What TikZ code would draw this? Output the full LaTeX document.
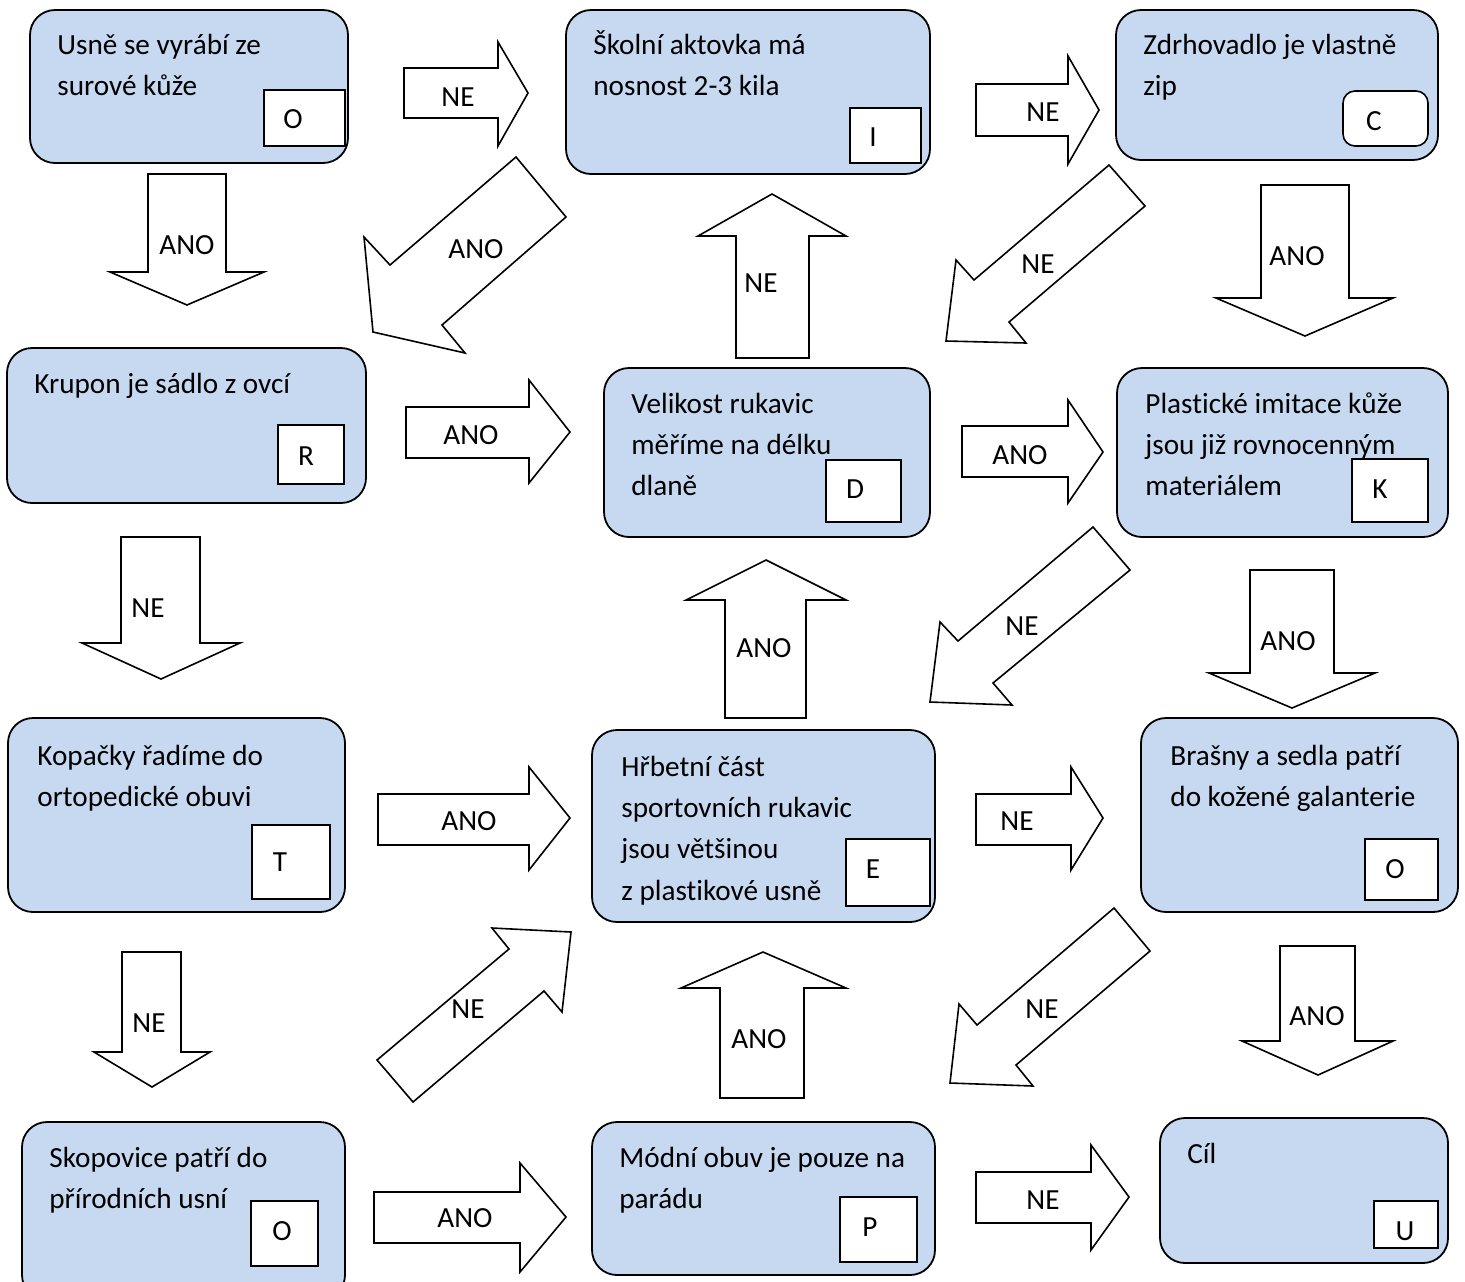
\documentclass[tikz,border=0pt]{standalone}
\usepackage{fontspec}
\setmainfont{Carlito}[Ligatures=NoCommon]
\begin{document}
\begin{tikzpicture}[x=0.5pt,y=-0.5pt,
  card/.style={draw=black,line width=0.9pt,fill=cardblue,rounded corners=12.5pt},
  tag/.style={draw=black,line width=0.8pt,fill=white},
  barrow/.style={draw=black,line width=0.8pt,fill=white,line join=miter},
  txt/.style={anchor=base west,inner sep=0pt,font=\fontsize{14.6}{20.7}\selectfont},
  lbl/.style={inner sep=0pt,font=\fontsize{14.6}{20.7}\selectfont},
  ltr/.style={inner sep=0pt,font=\fontsize{14.6}{20.7}\selectfont}]
\definecolor{cardblue}{HTML}{C6D9F1}
\useasboundingbox (0,0) rectangle (1465,1281);
\fill[white] (0,0) rectangle (1465,1281);
\newcommand{\lines}[1]{\begin{tabular}[t]{@{}l@{}}#1\end{tabular}}
% ---------- cards ----------
\draw[card] (30,10) rectangle (348,163);
\draw[card] (566,10) rectangle (930,174);
\draw[card] (1116,10) rectangle (1438,160);
\draw[card] (7,348) rectangle (366,503);
\draw[card] (604,368) rectangle (930,537);
\draw[card] (1117,368) rectangle (1448,537);
\draw[card] (8,718) rectangle (345,912);
\draw[card] (592,730) rectangle (935,922);
\draw[card] (1141,718) rectangle (1458,912);
\draw[card] (22,1122) rectangle (345,1300);
\draw[card] (592,1122) rectangle (935,1275);
\draw[card] (1160,1118) rectangle (1448,1263);
% ---------- texts ----------
\node[txt] (t1) at (57,54) {\lines{Usně se vyrábí ze\\surové kůže}};
\node[txt] (t2) at (593,54) {\lines{Školní aktovka má\\nosnost 2-3 kila}};
\node[txt] (t3) at (1143,54) {\lines{Zdrhovadlo je vlastně\\zip}};
\node[txt] (t4) at (34,393) {\lines{Krupon je sádlo z ovcí}};
\node[txt] (t5) at (631,413) {\lines{Velikost rukavic\\měříme na délku\\dlaně}};
\node[txt] (t6) at (1145,413) {\lines{Plastické imitace kůže\\jsou již rovnocenným\\materiálem}};
\node[txt] (t7) at (37,765) {\lines{Kopačky řadíme do\\ortopedické obuvi}};
\node[txt] (t8) at (621,776) {\lines{Hřbetní část\\sportovních rukavic\\jsou většinou\\z plastikové usně}};
\node[txt] (t9) at (1170,765) {\lines{Brašny a sedla patří\\do kožené galanterie}};
\node[txt] (t10) at (49,1167) {\lines{Skopovice patří do\\přírodních usní}};
\node[txt] (t11) at (619,1167) {\lines{Módní obuv je pouze na\\parádu}};
\node[txt] (t12) at (1187,1163) {Cíl};
% ---------- tags ----------
\draw[tag] (264,90) rectangle (345,146);
\draw[tag] (850,108) rectangle (921,163);
\draw[tag,rounded corners=6pt] (1343,91) rectangle (1428,146);
\draw[tag] (278,425) rectangle (344,484);
\draw[tag] (826,460) rectangle (901,522);
\draw[tag] (1352,459) rectangle (1428,522);
\draw[tag] (252,825) rectangle (330,899);
\draw[tag] (846,839) rectangle (930,906);
\draw[tag] (1365,839) rectangle (1438,900);
\draw[tag] (251,1201) rectangle (318,1266);
\draw[tag] (840,1197) rectangle (917,1262);
\draw[tag] (1374,1201) rectangle (1438,1248);
\node[ltr] (l1) at (293,119) {O};
\node[ltr] (l2) at (873,137) {I};
\node[ltr] (l3) at (1374,121) {C};
\node[ltr] (l4) at (306,456) {R};
\node[ltr] (l5) at (855,489) {D};
\node[ltr] (l6) at (1380,489) {K};
\node[ltr] (l7) at (280,862) {T};
\node[ltr] (l8) at (873,869) {E};
\node[ltr] (l9) at (1395,869) {O};
\node[ltr] (l10) at (282,1231) {O};
\node[ltr] (l11) at (870,1227) {P};
\node[ltr] (l12) at (1405,1231) {U};
% ---------- right arrows ----------
\draw[barrow] (404,68) -- (498,68) -- (498,42) -- (528,93) -- (498,146) -- (498,118) -- (404,118) -- cycle;
\draw[barrow] (406,407) -- (529,407) -- (529,380) -- (570,432) -- (529,483) -- (529,458) -- (406,458) -- cycle;
\draw[barrow] (976,84) -- (1068,84) -- (1068,56) -- (1099,110) -- (1068,164) -- (1068,136) -- (976,136) -- cycle;
\draw[barrow] (962,426) -- (1068,426) -- (1068,400) -- (1103,452) -- (1068,503) -- (1068,477) -- (962,477) -- cycle;
\draw[barrow] (378,794) -- (529,794) -- (529,767) -- (570,818) -- (529,870) -- (529,845) -- (378,845) -- cycle;
\draw[barrow] (976,794) -- (1071,794) -- (1071,767) -- (1103,818) -- (1071,870) -- (1071,845) -- (976,845) -- cycle;
\draw[barrow] (374,1192) -- (520,1192) -- (520,1163) -- (566,1217) -- (520,1272) -- (520,1243) -- (374,1243) -- cycle;
\draw[barrow] (976,1172) -- (1091,1172) -- (1091,1145) -- (1129,1197) -- (1091,1250) -- (1091,1223) -- (976,1223) -- cycle;
% ---------- down arrows ----------
\draw[barrow] (148,174) -- (226,174) -- (226,272) -- (264,272) -- (187,305) -- (110,272) -- (148,272) -- cycle;
\draw[barrow] (121,537) -- (200,537) -- (200,643) -- (240,643) -- (161,679) -- (82,643) -- (121,643) -- cycle;
\draw[barrow] (1261,185) -- (1349,185) -- (1349,298) -- (1393,298) -- (1305,336) -- (1216,298) -- (1261,298) -- cycle;
\draw[barrow] (1250,570) -- (1334,570) -- (1334,673) -- (1375,673) -- (1292,708) -- (1209,673) -- (1250,673) -- cycle;
\draw[barrow] (122,952) -- (181,952) -- (181,1052) -- (210,1052) -- (152,1087) -- (94,1052) -- (122,1052) -- cycle;
\draw[barrow] (1280,946) -- (1355,946) -- (1355,1041) -- (1393,1041) -- (1318,1075) -- (1242,1041) -- (1280,1041) -- cycle;
% ---------- up arrows ----------
\draw[barrow] (736,358) -- (809,358) -- (809,236) -- (846,236) -- (772,194) -- (698,236) -- (736,236) -- cycle;
\draw[barrow] (725,718) -- (806,718) -- (806,600) -- (846,600) -- (766,560) -- (686,600) -- (725,600) -- cycle;
\draw[barrow] (720,1098) -- (804,1098) -- (804,988) -- (846,988) -- (763,952) -- (681,988) -- (720,988) -- cycle;
% ---------- diagonal arrows ----------
\draw[barrow] (516,157) -- (566,217) -- (442,325) -- (465,353) -- (373,332) -- (364,237) -- (390,265) -- cycle;
\draw[barrow] (1109,165) -- (1145,206) -- (1009,322) -- (1026,343) -- (946,341) -- (956,260) -- (974,280) -- cycle;
\draw[barrow] (1093,527) -- (1130,570) -- (993,683) -- (1012,705) -- (930,702) -- (940,622) -- (958,641) -- cycle;
\draw[barrow] (1114,908) -- (1150,951) -- (1016,1065) -- (1033,1086) -- (950,1083) -- (959,1004) -- (977,1025) -- cycle;
\draw[barrow] (377,1060) -- (509,949) -- (492,928) -- (571,932) -- (562,1012) -- (544,991) -- (413,1102) -- cycle;
% ---------- arrow labels ----------
\node[lbl] (a1) at (458,97) {NE};
\node[lbl] (a2) at (187,245) {ANO};
\node[lbl] (a3) at (476,249) {ANO};
\node[lbl] (a4) at (471,435) {ANO};
\node[lbl] (a5) at (148,608) {NE};
\node[lbl] (a6) at (761,283) {NE};
\node[lbl] (a7) at (1043,112) {NE};
\node[lbl] (a8) at (1038,264) {NE};
\node[lbl] (a9) at (1297,256) {ANO};
\node[lbl] (a10) at (1020,455) {ANO};
\node[lbl] (a11) at (1022,626) {NE};
\node[lbl] (a12) at (764,648) {ANO};
\node[lbl] (a13) at (469,821) {ANO};
\node[lbl] (a14) at (1288,641) {ANO};
\node[lbl] (a15) at (1017,821) {NE};
\node[lbl] (a16) at (149,1023) {NE};
\node[lbl] (a17) at (468,1009) {NE};
\node[lbl] (a18) at (759,1039) {ANO};
\node[lbl] (a19) at (1042,1009) {NE};
\node[lbl] (a20) at (1317,1016) {ANO};
\node[lbl] (a21) at (465,1218) {ANO};
\node[lbl] (a22) at (1043,1200) {NE};
\end{tikzpicture}
\end{document}
